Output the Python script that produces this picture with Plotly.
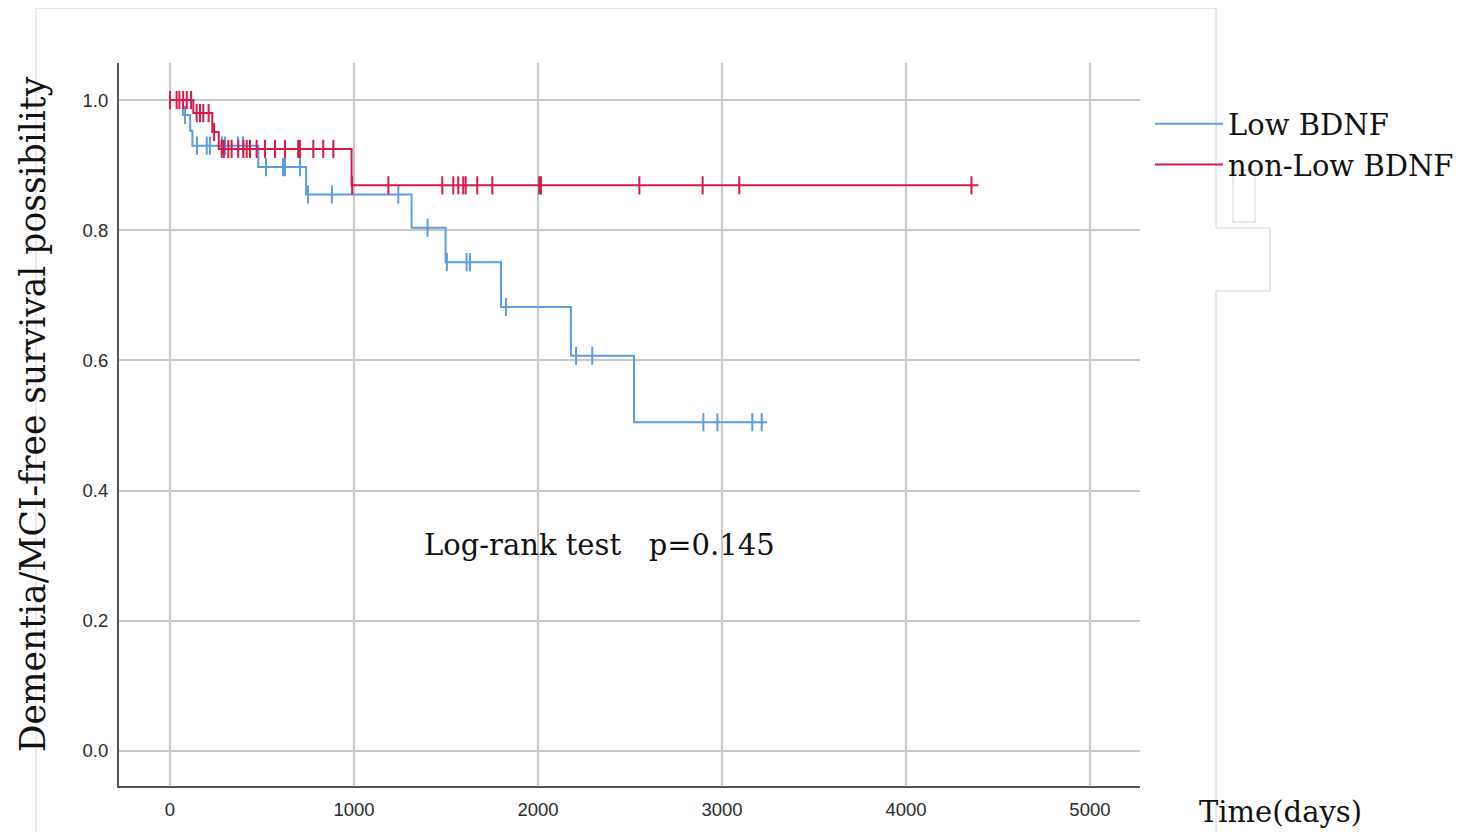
import numpy as np
import plotly.graph_objects as go

# ---------------- data ----------------
# Low BDNF group: event times (days) and survival after each step
low_step_t = [0, 70, 110, 122, 480, 740, 1313, 1498, 1799, 2179, 2522, 3245]
low_step_s = [1.0, 0.977, 0.953, 0.930, 0.897, 0.855, 0.804, 0.751, 0.682, 0.607, 0.505, 0.505]
low_censor_t = [82, 147, 200, 217, 283, 299, 370, 397, 522, 614, 625, 707, 750, 880,
                1241, 1400, 1505, 1612, 1630, 1826, 2207, 2295, 2899, 2975, 3165, 3216]

# non-Low BDNF group
non_step_t = [0, 127, 230, 265, 987, 4393]
non_step_s = [1.0, 0.980, 0.951, 0.925, 0.869, 0.869]
non_censor_t = [0, 36, 51, 72, 91, 115, 145, 163, 181, 210, 240,
                281, 293, 317, 335, 371, 399, 417, 435, 471, 516, 571, 625, 697, 706,
                779, 833, 888, 990, 1187, 1480, 1540, 1567, 1594, 1607, 1670, 1752,
                2007, 2016, 2551, 2895, 3094, 4356]

x_ticks = [0, 1000, 2000, 3000, 4000, 5000]
y_ticks = [0.0, 0.2, 0.4, 0.6, 0.8, 1.0]
series_names = ["Low BDNF", "non-Low BDNF"]
p_text = "Log-rank test   p=0.145"

BLUE = "#5b9be0"
RED = "#d7194a"
SERIF = "DejaVu Serif"


def surv_at(step_t, step_s, t):
    idx = np.searchsorted(np.array(step_t), np.array(t), side="right") - 1
    return list(np.array(step_s)[idx])


fig = go.Figure()
for name, st, ss, ct, col in [
    (series_names[0], low_step_t, low_step_s, low_censor_t, BLUE),
    (series_names[1], non_step_t, non_step_s, non_censor_t, RED),
]:
    fig.add_trace(go.Scatter(x=st, y=ss, mode="lines", line=dict(shape="hv", color=col, width=2),
                             name=name, showlegend=True))
    fig.add_trace(go.Scatter(x=ct, y=surv_at(st, ss, ct), mode="markers",
                             marker=dict(symbol="line-ns", size=13, line=dict(color=col, width=2)),
                             showlegend=False, hoverinfo="skip"))

fig.add_annotation(x=2337, y=0.316, xref="x", yref="y", text=p_text, showarrow=False,
                   xanchor="center", yanchor="middle",
                   font=dict(family=SERIF, size=29, color="#111"))

# axis titles as annotations
fig.add_annotation(x=-0.084, y=0.5145, xref="paper", yref="paper", text="Dementia/MCI-free survival possibility",
                   textangle=-90, showarrow=False, xanchor="center", yanchor="middle",
                   font=dict(family=SERIF, size=34.5, color="#111"))
fig.add_annotation(x=1.138, y=-0.036, xref="paper", yref="paper", text="Time(days)", showarrow=False,
                   xanchor="center", yanchor="middle",
                   font=dict(family=SERIF, size=29, color="#111"))

# light frame artifacts around the original figure
def px(xp):
    return (xp - 119) / 1021

def py(yp):
    return (786 - yp) / 723

frame = dict(color="#d4d4d4", width=1)
for x0, y0, x1, y1 in [(36, 8, 1216, 8), (36, 8, 36, 832), (1216, 8, 1216, 228), (1216, 228, 1270, 228),
                       (1270, 228, 1270, 291), (1216, 291, 1270, 291), (1216, 291, 1216, 832)]:
    fig.add_shape(type="line", xref="paper", yref="paper", x0=px(x0), y0=py(y0), x1=px(x1), y1=py(y1),
                  line=frame, layer="below")
fig.add_shape(type="rect", xref="paper", yref="paper", x0=px(1233), y0=py(222), x1=px(1255), y1=py(170),
              line=frame, layer="below")

fig.update_layout(
    width=1459, height=824,
    margin=dict(l=111, r=327, t=55, b=46, autoexpand=False),
    paper_bgcolor="white", plot_bgcolor="white",
    legend=dict(x=1.0098, y=0.951, xanchor="left", yanchor="top", font=dict(family=SERIF, size=29, color="#111"),
                itemwidth=68, bgcolor="rgba(0,0,0,0)", tracegroupgap=0),
    xaxis=dict(range=[-277, 5272], tickvals=x_ticks, showgrid=True, gridcolor="#c8c8c8", gridwidth=2,
               zeroline=False, showline=True, linecolor="#555", linewidth=2, ticks="",
               tickfont=dict(family="Liberation Sans", size=18.5, color="#2a2a2a"), ticklabelstandoff=6),
    yaxis=dict(range=[-0.054, 1.057], tickvals=y_ticks, tickformat=".1f", showgrid=True, gridcolor="#c8c8c8",
               gridwidth=2, zeroline=False, showline=True, linecolor="#555", linewidth=2, ticks="",
               tickfont=dict(family="Liberation Sans", size=18.5, color="#2a2a2a"), ticklabelstandoff=5),
)

fig.write_html("out.html")
